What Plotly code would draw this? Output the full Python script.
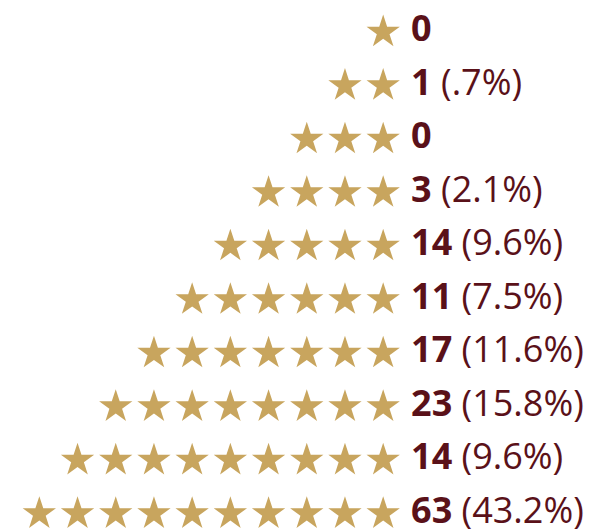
import plotly.graph_objects as go

# Anzahl Sterne pro Zeile und die zugehörigen Werte
stars = [1, 2, 3, 4, 5, 6, 7, 8, 9, 10]
counts = [0, 1, 0, 3, 14, 11, 17, 23, 14, 63]
pct_labels = ["", "(.7%)", "", "(2.1%)", "(9.6%)", "(7.5%)", "(11.6%)", "(15.8%)", "(9.6%)", "(43.2%)"]

gold = "#C8A55E"
maroon = "#5A1119"

# Sternpositionen: rechtsbündig, jeweils nach links
star_x = []
star_y = []
for row, n in enumerate(stars):
    for k in range(n):
        star_x.append(-1 - k)
        star_y.append(row + 1)

labels = []
for c, p in zip(counts, pct_labels):
    if p:
        labels.append("<b>" + str(c) + "</b> " + p)
    else:
        labels.append("<b>" + str(c) + "</b>")

fig = go.Figure()

fig.add_trace(go.Scatter(
    x=star_x,
    y=star_y,
    mode="markers",
    marker=dict(symbol="star", size=25, color=gold, line=dict(width=0)),
    hoverinfo="skip",
    cliponaxis=False,
))

fig.add_trace(go.Scatter(
    x=[-0.27] * len(stars),
    y=[i + 1 for i in range(len(stars))],
    mode="text",
    text=labels,
    textposition="middle right",
    textfont=dict(family="Open Sans", size=36, color=maroon),
    hoverinfo="skip",
    cliponaxis=False,
))

fig.update_layout(
    width=609,
    height=532,
    margin=dict(l=0, r=0, t=0, b=0),
    showlegend=False,
    plot_bgcolor="white",
    paper_bgcolor="white",
    xaxis=dict(range=[-10.82, 5.12], visible=False, fixedrange=True),
    yaxis=dict(range=[10.49, 0.55], visible=False, fixedrange=True),
)

fig.write_html("out.html")
